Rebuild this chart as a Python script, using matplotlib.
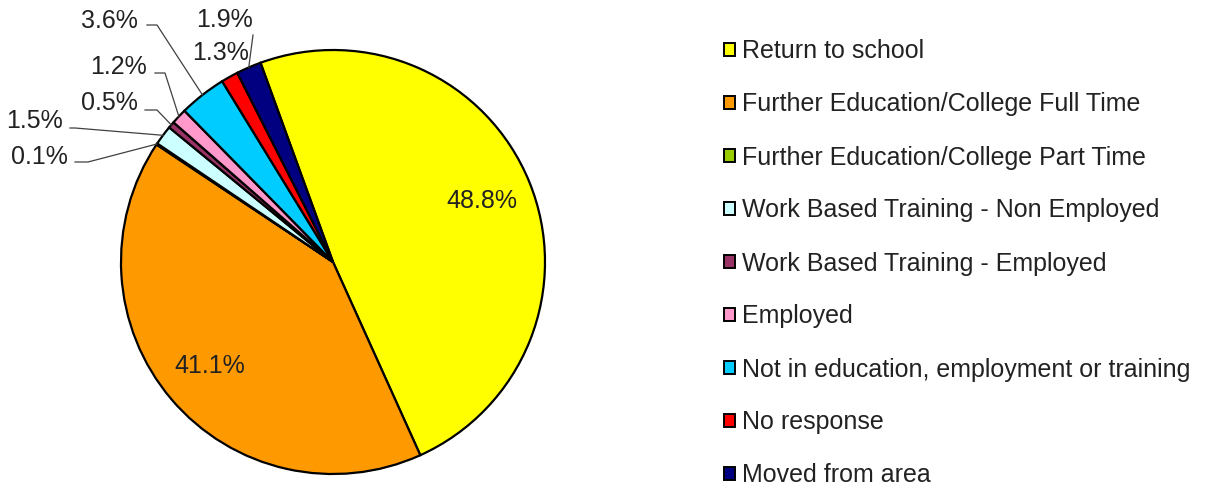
import matplotlib.pyplot as plt
from matplotlib.patches import Patch
import numpy as np

categories = [
    "Return to school",
    "Further Education/College Full Time",
    "Further Education/College Part Time",
    "Work Based Training - Non Employed",
    "Work Based Training - Employed",
    "Employed",
    "Not in education, employment or training",
    "No response",
    "Moved from area",
]
values = [48.8, 41.1, 0.1, 1.5, 0.5, 1.2, 3.6, 1.3, 1.9]
colors = ["#FFFF00", "#FF9900", "#99CC00", "#CCFFFF", "#993366",
          "#FF99CC", "#00CCFF", "#FF0000", "#000080"]

plt.rcParams['font.family'] = ['Liberation Sans', 'DejaVu Sans']

W, H = 1224, 488
fig = plt.figure(figsize=(W / 100, H / 100), dpi=100)

# pie centre (333, 262) px, radius 212 px
cx, cy, r = 333, 262, 212
ax = fig.add_axes([(cx - r) / W, (H - cy - r) / H, 2 * r / W, 2 * r / H])

wedges, _ = ax.pie(values, colors=colors, startangle=110, counterclock=False,
                   radius=1.0, wedgeprops=dict(edgecolor="black", linewidth=1.6))
ax.set_xlim(-1, 1)
ax.set_ylim(-1, 1)
ax.set_aspect("equal")
ax.axis("off")


def px(x, y):
    # pixel position -> data coords of the pie axes
    return (x - cx) / r, (cy - y) / r


# outside label layout: text right edge / centre y, then elbow point (px)
outside = {
    2: ((68, 157), (75, 162), (88, 162)),
    3: ((63, 121), (70, 128), (75, 128)),
    4: ((138, 103), (145, 110), (157, 110)),
    5: ((147, 67), (155, 73), (165, 73)),
    6: ((138, 21), (147, 25), (157, 25)),
    7: ((249, 53), None, None),
    8: ((253, 20), (253, 35), (253, 35)),
}

fs = 18
for i, (w, v) in enumerate(zip(wedges, values)):
    mid = np.deg2rad((w.theta1 + w.theta2) / 2)
    lab = f"{v:.1f}%"
    if i in outside:
        (tx, ty), p0, p1 = outside[i]
        ax.text(*px(tx, ty), lab, ha="right", va="center", fontsize=fs,
                color="#222222", clip_on=False)
        if p0 is not None:
            x0, y0 = px(*p0)
            x1, y1 = px(*p1)
            ax.plot([x0, x1, np.cos(mid)], [y0, y1, np.sin(mid)],
                    color="#404040", linewidth=0.9, clip_on=False)
    else:
        ax.text(0.76 * np.cos(mid), 0.76 * np.sin(mid), lab, ha="center",
                va="center", fontsize=fs, color="#222222")

handles = [Patch(facecolor=c, edgecolor="black", linewidth=1.4) for c in colors]
fig.legend(handles, categories, loc="upper left",
           bbox_to_anchor=(711 / W, 1 - 27 / H), frameon=False,
           fontsize=fs, handlelength=0.45, handleheight=0.45,
           handletextpad=0.3, labelspacing=1.16, borderpad=0,
           labelcolor="#222222")

fig.savefig("out.png", dpi=100)
